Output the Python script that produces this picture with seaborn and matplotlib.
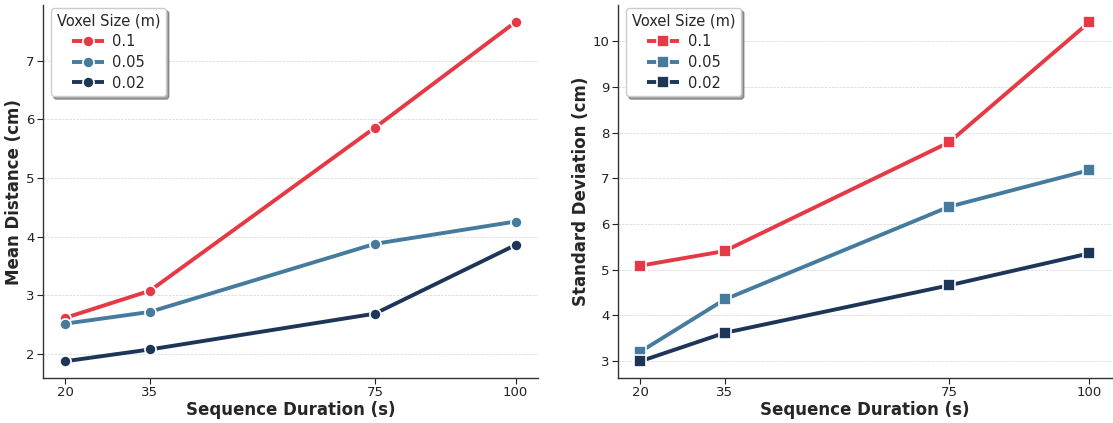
import matplotlib
matplotlib.use("Agg")
import matplotlib.pyplot as plt
import seaborn as sns
import pandas as pd
from matplotlib.lines import Line2D

durations = [20, 35, 75, 100]
voxel_sizes = ["0.1", "0.05", "0.02"]
mean_distance = {
    "0.1": [2.62, 3.08, 5.86, 7.66],
    "0.05": [2.52, 2.72, 3.88, 4.26],
    "0.02": [1.88, 2.08, 2.69, 3.86],
}
std_deviation = {
    "0.1": [5.09, 5.41, 7.79, 10.42],
    "0.05": [3.21, 4.35, 6.38, 7.18],
    "0.02": [3.00, 3.62, 4.66, 5.36],
}
colors = ["#e63946", "#457b9d", "#1d3557"]

sns.set_theme(style="ticks")
plt.rcParams["font.family"] = ["DejaVu Sans"]
plt.rcParams["axes.edgecolor"] = "#333333"
plt.rcParams["axes.linewidth"] = 1.0


def to_frame(values):
    rows = []
    for v in voxel_sizes:
        for d, y in zip(durations, values[v]):
            rows.append({"duration": d, "voxel": v, "value": y})
    return pd.DataFrame(rows)


fig = plt.figure(figsize=(11.13, 4.23), dpi=100)
ax_left = fig.add_axes([0.0386, 0.106, 0.4448, 0.882])
ax_right = fig.add_axes([0.5553, 0.106, 0.4437, 0.882])
panels = [
    (ax_left, mean_distance, "o", "Mean Distance (cm)"),
    (ax_right, std_deviation, "s", "Standard Deviation (cm)"),
]
for ax, values, marker, ylabel in panels:
    df = to_frame(values)
    sns.lineplot(
        data=df, x="duration", y="value", hue="voxel",
        hue_order=voxel_sizes, palette=colors, marker=marker,
        markersize=8, markeredgecolor="white", markeredgewidth=1.2,
        linewidth=2.8, ax=ax, legend=False,
    )
    ax.set_xticks(durations)
    ax.set_xlabel("Sequence Duration (s)", fontsize=12, fontweight="bold",
                  labelpad=1)
    ax.set_ylabel(ylabel, fontsize=12, fontweight="bold", labelpad=2)
    ax.tick_params(labelsize=9.5, length=4, width=0.8, pad=2,
                   colors="#222222")
    ax.yaxis.grid(True, linestyle="--", linewidth=0.5, color="#d5d5d5")
    sns.despine(ax=ax)
    handles = [
        Line2D([0], [0], color=c, linestyle="--", linewidth=2.8,
               marker=marker, markersize=8, markeredgecolor="white",
               markeredgewidth=1.2)
        for c in colors
    ]
    ax.legend(handles, voxel_sizes, title="Voxel Size (m)", loc="upper left",
              bbox_to_anchor=(0.016, 0.992), borderaxespad=0,
              frameon=True, shadow=True, fontsize=10.5, title_fontsize=10.5,
              fancybox=True, labelspacing=0.38, handlelength=2.2,
              handletextpad=0.6)

fig.savefig("out.png", dpi=100)
